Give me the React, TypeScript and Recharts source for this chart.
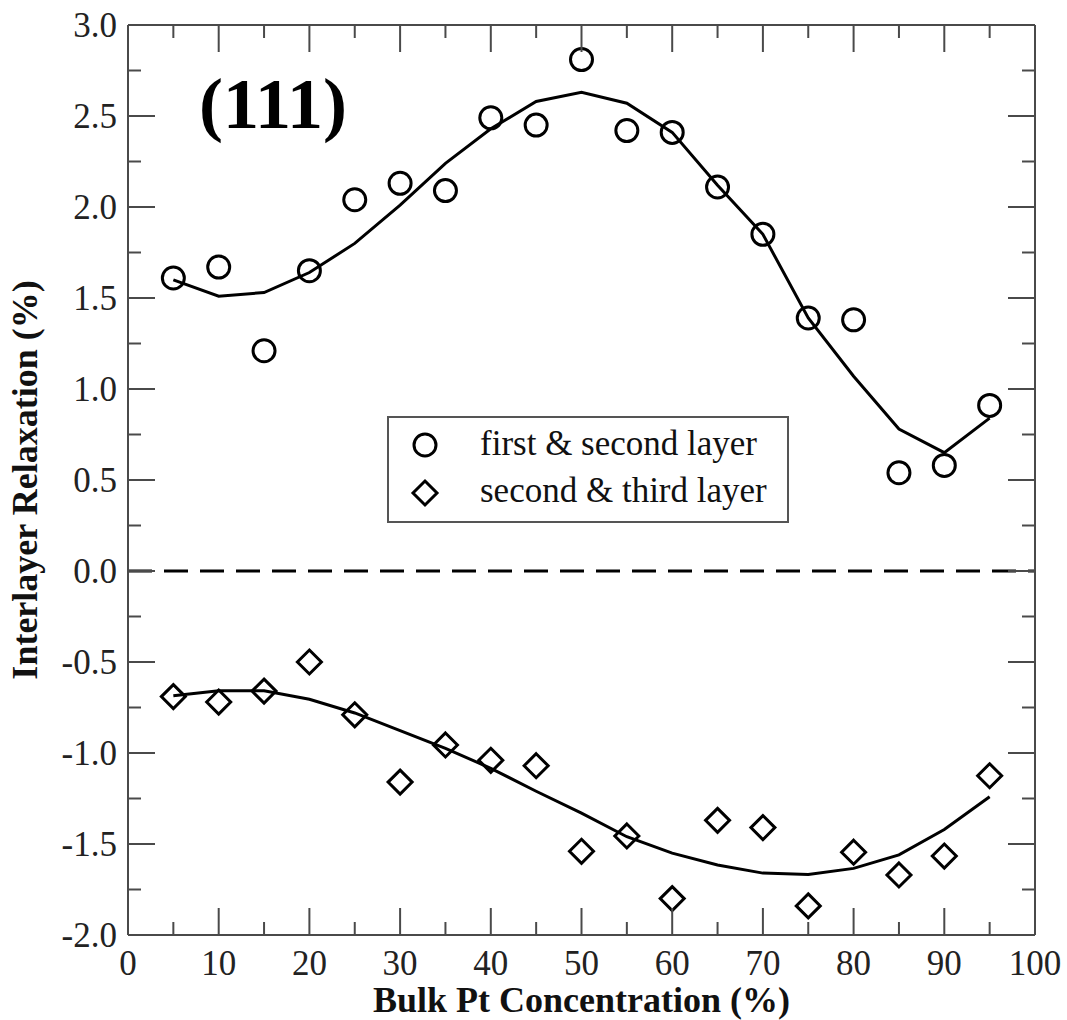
import React from 'react';
import {
  ComposedChart,
  Line,
  Scatter,
  XAxis,
  YAxis,
  ReferenceLine,
  Legend,
  Customized,
} from 'recharts';

const concentrations = [5, 10, 15, 20, 25, 30, 35, 40, 45, 50, 55, 60, 65, 70, 75, 80, 85, 90, 95];
const firstSecond = [1.61, 1.67, 1.21, 1.65, 2.04, 2.13, 2.09, 2.49, 2.45, 2.81, 2.42, 2.41, 2.11, 1.85, 1.39, 1.38, 0.54, 0.58, 0.91];
const firstSecondFit = [1.6, 1.51, 1.53, 1.64, 1.8, 2.01, 2.24, 2.43, 2.58, 2.63, 2.57, 2.41, 2.12, 1.85, 1.39, 1.07, 0.78, 0.65, 0.84];
const secondThird = [-0.69, -0.72, -0.66, -0.5, -0.79, -1.16, -0.956, -1.04, -1.07, -1.54, -1.456, -1.8, -1.37, -1.41, -1.84, -1.545, -1.67, -1.566, -1.125];
const secondThirdFit = [-0.685, -0.658, -0.658, -0.705, -0.78, -0.877, -0.974, -1.084, -1.21, -1.33, -1.46, -1.55, -1.615, -1.66, -1.667, -1.634, -1.56, -1.42, -1.24];

const xTicks = [0, 5, 10, 15, 20, 25, 30, 35, 40, 45, 50, 55, 60, 65, 70, 75, 80, 85, 90, 95, 100];
const yTicks = [-2, -1.75, -1.5, -1.25, -1, -0.75, -0.5, -0.25, 0, 0.25, 0.5, 0.75, 1, 1.25, 1.5, 1.75, 2, 2.25, 2.5, 2.75, 3];

const seriesNames = ['first & second layer', 'second & third layer'];

const rows = concentrations.map((c, i) => ({
  x: c,
  fs: firstSecond[i],
  fsFit: firstSecondFit[i],
  st: secondThird[i],
  stFit: secondThirdFit[i],
}));

const FONT = "'Liberation Serif', 'Times New Roman', Times, serif";
const serif = { fontFamily: FONT };
const AXIS = '#4a4a4a';
const MAJOR = 27;
const MINOR = 13;

const isMajorX = (v: number) => v % 10 === 0;
const isMajorY = (v: number) => Math.abs(v * 2 - Math.round(v * 2)) < 1e-6;

const BottomTick = (props: any) => {
  const { x, y, payload } = props;
  const v = payload.value;
  const major = isMajorX(v);
  return (
    <g>
      <line x1={x} x2={x} y1={y} y2={y - (major ? MAJOR : MINOR)} stroke={AXIS} strokeWidth={2} />
      {major && (
        <text x={x} y={y + 40} textAnchor="middle" style={serif} fontSize={35} fill="#222">
          {v}
        </text>
      )}
    </g>
  );
};

const TopTick = (props: any) => {
  const { x, y, payload } = props;
  const major = isMajorX(payload.value);
  return <line x1={x} x2={x} y1={y} y2={y + (major ? MAJOR : MINOR)} stroke={AXIS} strokeWidth={2} />;
};

const LeftTick = (props: any) => {
  const { x, y, payload } = props;
  const v = payload.value;
  const major = isMajorY(v);
  return (
    <g>
      <line x1={x} x2={x + (major ? MAJOR : MINOR)} y1={y} y2={y} stroke={AXIS} strokeWidth={2} />
      {major && (
        <text x={x - 11} y={y + 12} textAnchor="end" style={serif} fontSize={35} fill="#222">
          {v.toFixed(1)}
        </text>
      )}
    </g>
  );
};

const RightTick = (props: any) => {
  const { x, y, payload } = props;
  const major = isMajorY(payload.value);
  return <line x1={x} x2={x - (major ? MAJOR : MINOR)} y1={y} y2={y} stroke={AXIS} strokeWidth={2} />;
};

const CircleShape = (props: any) => {
  const { cx, cy } = props;
  return <circle cx={cx} cy={cy} r={11} fill="none" stroke="#000" strokeWidth={3} />;
};

const DiamondShape = (props: any) => {
  const { cx, cy } = props;
  const h = 12;
  return (
    <path
      d={`M${cx},${cy - h} L${cx + h},${cy} L${cx},${cy + h} L${cx - h},${cy} Z`}
      fill="none"
      stroke="#000"
      strokeWidth={3}
      strokeLinejoin="miter"
    />
  );
};

const XTitle = (props: any) => {
  const vb = props.viewBox || {};
  return (
    <text
      x={vb.x + vb.width / 2}
      y={vb.y + 77}
      textAnchor="middle"
      style={serif}
      fontSize={36}
      fontWeight="bold"
      fill="#111"
    >
      Bulk Pt Concentration (%)
    </text>
  );
};

const YTitle = (props: any) => {
  const vb = props.viewBox || {};
  const cx = 37;
  const cy = vb.y + vb.height / 2;
  return (
    <text
      x={cx}
      y={cy}
      transform={`rotate(-90, ${cx}, ${cy})`}
      textAnchor="middle"
      style={serif}
      fontSize={36}
      fontWeight="bold"
      fill="#111"
    >
      Interlayer Relaxation (%)
    </text>
  );
};

const PanelLabel = () => (
  <text x={273} y={128} textAnchor="middle" style={serif} fontSize={72} fontWeight="bold" fill="#000">
    (111)
  </text>
);

const LegendBox = () => (
  <svg width={402} height={107} style={{ display: 'block' }}>
    <rect x={1} y={1} width={400} height={105} fill="#fff" stroke="#555" strokeWidth={2} />
    <circle cx={38} cy={29} r={11} fill="none" stroke="#000" strokeWidth={3} />
    <path d="M38,65 L50,77 L38,89 L26,77 Z" fill="none" stroke="#000" strokeWidth={3} />
    <text x={93} y={39} style={serif} fontSize={35} fill="#111">
      {seriesNames[0]}
    </text>
    <text x={93} y={86} style={serif} fontSize={35} fill="#111">
      {seriesNames[1]}
    </text>
  </svg>
);

export default function App() {
  return (
    <div style={{ position: 'absolute', left: 0, top: 0, width: 1067, height: 1020, background: '#fff' }}>
      <ComposedChart
        width={1067}
        height={1020}
        data={rows}
        margin={{ top: 24, right: 31, bottom: 0, left: 0 }}
      >
        <XAxis
          xAxisId="b"
          dataKey="x"
          type="number"
          orientation="bottom"
          domain={[0, 100]}
          ticks={xTicks}
          interval={0}
          height={85}
          tickSize={0}
          tickMargin={0}
          tickLine={false}
          axisLine={{ stroke: AXIS, strokeWidth: 2 }}
          tick={<BottomTick />}
          allowDataOverflow
          label={<XTitle />}
        />
        <XAxis
          xAxisId="t"
          dataKey="x"
          type="number"
          orientation="top"
          domain={[0, 100]}
          ticks={xTicks}
          interval={0}
          height={1}
          tickSize={0}
          tickMargin={0}
          tickLine={false}
          axisLine={{ stroke: AXIS, strokeWidth: 2 }}
          tick={<TopTick />}
          allowDataOverflow
        />
        <YAxis
          yAxisId="l"
          type="number"
          orientation="left"
          domain={[-2, 3]}
          ticks={yTicks}
          interval={0}
          width={128}
          tickSize={0}
          tickMargin={0}
          tickLine={false}
          axisLine={{ stroke: AXIS, strokeWidth: 2 }}
          tick={<LeftTick />}
          allowDataOverflow
          label={<YTitle />}
        />
        <YAxis
          yAxisId="r"
          type="number"
          orientation="right"
          domain={[-2, 3]}
          ticks={yTicks}
          interval={0}
          width={1}
          tickSize={0}
          tickMargin={0}
          tickLine={false}
          axisLine={{ stroke: AXIS, strokeWidth: 2 }}
          tick={<RightTick />}
          allowDataOverflow
        />
        <ReferenceLine
          xAxisId="b"
          yAxisId="l"
          y={0}
          stroke="#000"
          strokeWidth={3}
          strokeDasharray="24 12"
        />
        <Line
          xAxisId="b"
          yAxisId="l"
          type="linear"
          dataKey="fsFit"
          stroke="#000"
          strokeWidth={3}
          dot={false}
          activeDot={false}
          isAnimationActive={false}
          legendType="none"
        />
        <Line
          xAxisId="b"
          yAxisId="l"
          type="linear"
          dataKey="stFit"
          stroke="#000"
          strokeWidth={3}
          dot={false}
          activeDot={false}
          isAnimationActive={false}
          legendType="none"
        />
        <Scatter
          xAxisId="b"
          yAxisId="l"
          name={seriesNames[0]}
          dataKey="fs"
          shape={<CircleShape />}
          isAnimationActive={false}
        />
        <Scatter
          xAxisId="b"
          yAxisId="l"
          name={seriesNames[1]}
          dataKey="st"
          shape={<DiamondShape />}
          isAnimationActive={false}
        />
        <Customized component={PanelLabel} />
        <Legend
          layout="vertical"
          align="center"
          verticalAlign="middle"
          wrapperStyle={{ left: 387, top: 416, width: 402, height: 107, margin: 0, padding: 0 }}
          content={() => <LegendBox />}
        />
      </ComposedChart>
    </div>
  );
}
